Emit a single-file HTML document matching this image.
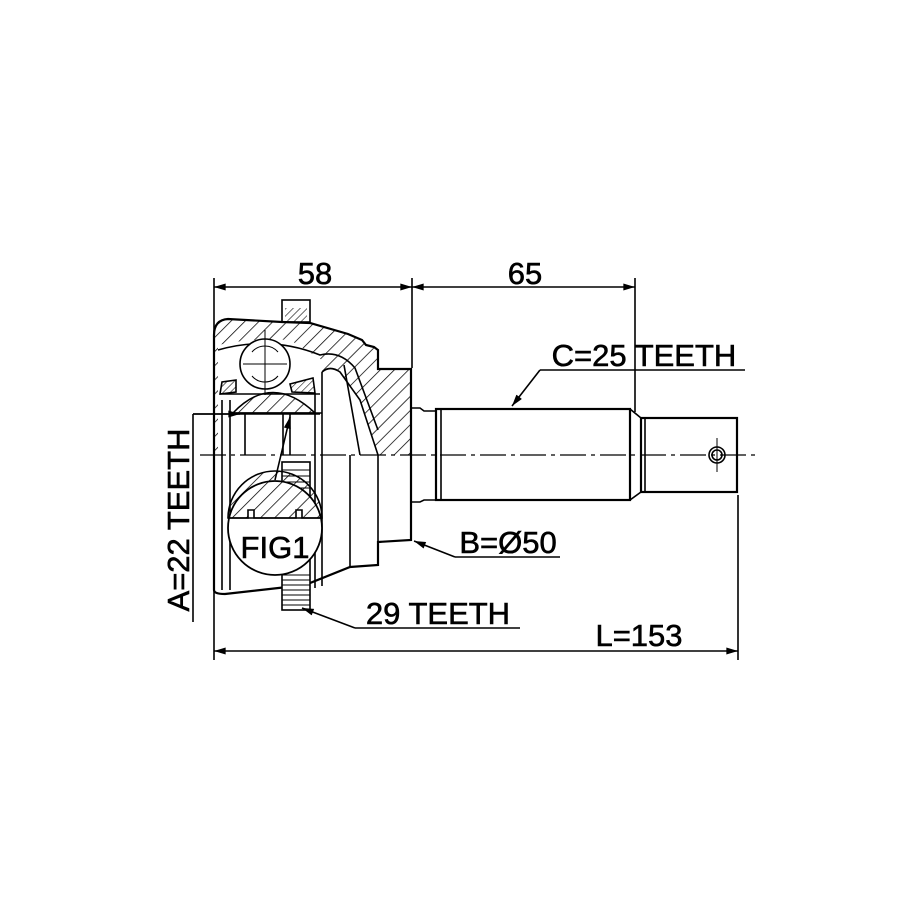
<!DOCTYPE html>
<html><head><meta charset="utf-8"><style>html,body{margin:0;padding:0;background:#fff}svg{display:block}text{font-family:"Liberation Sans",Arial,sans-serif;fill:#000}</style></head>
<body>
<svg width="915" height="915" viewBox="0 0 915 915" xmlns="http://www.w3.org/2000/svg">
<defs>
<pattern id="h" patternUnits="userSpaceOnUse" width="10" height="10" patternTransform="rotate(45)"><line x1="0" y1="0" x2="0" y2="10" stroke="#000" stroke-width="1.5"/></pattern>
<pattern id="h2" patternUnits="userSpaceOnUse" width="5" height="5" patternTransform="rotate(45)"><line x1="0" y1="0" x2="0" y2="5" stroke="#000" stroke-width="1.1"/></pattern>
<marker id="a" viewBox="0 0 10 6" refX="10" refY="3" markerWidth="15" markerHeight="7" markerUnits="userSpaceOnUse" orient="auto-start-reverse"><path d="M0,0 L10,3 L0,6 z" fill="#000"/></marker>
</defs>
<g fill="none" stroke="#000" stroke-width="1.6">
<line x1="214" y1="278" x2="214" y2="660"/>
<line x1="412" y1="278" x2="412" y2="368"/>
<line x1="635" y1="278" x2="635" y2="412"/>
<line x1="738" y1="495" x2="738" y2="660"/>
<line x1="214" y1="287" x2="412" y2="287" marker-start="url(#a)" marker-end="url(#a)"/>
<line x1="412" y1="287" x2="635" y2="287" marker-start="url(#a)" marker-end="url(#a)"/>
<line x1="214" y1="651" x2="738" y2="651" marker-start="url(#a)" marker-end="url(#a)"/>
<path d="M214,335 Q214,320 228,319 L282,322 L310,323 L348,334 L362,340 L366,345 L374,347 L378,350 L378,369 L411,369 L411,455 L378,455 L360,400 L340,372 Q330,365 322,372 L322,455 L214,455 Z" fill="url(#h)" stroke="none"/>
<path d="M218,345 Q250,338 290,340 L322,360 L322,455 L218,455 Z" fill="#fff" stroke="none"/>
<rect x="282" y="300" width="28" height="22" fill="#fff"/>
<rect x="285" y="308" width="22" height="14" fill="url(#h2)" stroke="none"/>
<path d="M214,590 L214,335 Q214,320 228,319 L282,322 L310,323 L348,334 L362,340 L366,345 L374,347 L378,350 L378,369 L411,369 L411,540 L378,542 L378,565 L350,567 L305,585 L225,594 Q214,594 214,590 Z" stroke-width="2.2"/>
<path d="M218,350 Q270,335 320,355 Q340,350 355,368 L378,430"/>
<path d="M322,372 Q330,365 340,372 L360,400 L378,455"/>
<line x1="322" y1="372" x2="322" y2="455"/>
<line x1="350" y1="455" x2="350" y2="567"/>
<line x1="378" y1="455" x2="378" y2="542"/>
<line x1="344" y1="365" x2="360" y2="455"/>
<path d="M220,394 L236,392 L236,380 L222,382 Z" fill="url(#h2)"/>
<path d="M290,384 L313,378 L315,393 L292,392 Z" fill="url(#h2)"/>
<line x1="220" y1="394" x2="320" y2="394"/>
<line x1="222" y1="400" x2="222" y2="455"/>
<line x1="230" y1="400" x2="230" y2="455"/>
<line x1="315" y1="394" x2="315" y2="455"/>
<circle cx="265" cy="364" r="25" fill="#fff"/>
<path d="M252,352 A17,17 0 0 1 278,352 M252,376 A17,17 0 0 0 278,376" stroke-width="1"/>
<line x1="265" y1="330" x2="265" y2="395" stroke-width="1"/>
<line x1="243" y1="364" x2="287" y2="364" stroke-width="1"/>
<path d="M233,413 Q272,372 315,413 Z" fill="url(#h)"/>
<line x1="230" y1="413" x2="322" y2="413"/>
<line x1="245" y1="413" x2="245" y2="455"/>
<line x1="283" y1="413" x2="283" y2="455"/>
<line x1="290" y1="413" x2="290" y2="455"/>
<line x1="222" y1="455" x2="222" y2="590"/>
<line x1="230" y1="455" x2="230" y2="590"/>
<line x1="315" y1="455" x2="315" y2="588"/>
<line x1="322" y1="455" x2="322" y2="586"/>
<rect x="282" y="462" width="28" height="148" fill="#fff"/>
<path d="M282,470 H310 M282,476 H310 M282,482 H310 M282,488 H310 M282,575 H310 M282,580 H310 M282,585 H310 M282,590 H310 M282,595 H310 M282,600 H310 M282,605 H310" stroke-width="0.9"/>
<circle cx="275" cy="528" r="47" fill="#fff" stroke-width="1.8"/>
<path d="M228,518 A47,47 0 0 1 322,518 L302,518 L302,510 L296,510 L296,518 L254,518 L254,510 L248,510 L248,518 Z" fill="url(#h)"/>
<line x1="228" y1="518" x2="322" y2="518"/>
<path d="M411,408 L420,408 L424,411 L436,411 L436,500 L424,500 L420,502 L411,502"/>
<rect x="436" y="409" width="194" height="91" stroke-width="2.2" fill="#fff"/>
<line x1="441" y1="409" x2="441" y2="500"/>
<path d="M630,409 L641,418 L641,492 L630,500" />
<rect x="641" y="418" width="96" height="74" stroke-width="2.2" fill="#fff"/>
<line x1="645" y1="418" x2="645" y2="492"/>
<circle cx="717" cy="455" r="8"/>
<circle cx="717" cy="455" r="5"/>
<line x1="717" y1="438" x2="717" y2="472" stroke-width="1"/>
<line x1="200" y1="455" x2="755" y2="455" stroke-width="1.2" stroke-dasharray="26,5,4,5"/>
<line x1="193" y1="414" x2="193" y2="622"/>
<line x1="193" y1="414" x2="320" y2="414"/>
<line x1="193" y1="414" x2="240" y2="414" marker-end="url(#a)"/>
<line x1="275" y1="480" x2="290" y2="417" marker-end="url(#a)"/>
<polyline points="745,370 540,370"/>
<line x1="540" y1="370" x2="512" y2="406" marker-end="url(#a)"/>
<polyline points="560,557 455,557"/>
<line x1="455" y1="557" x2="414" y2="541" marker-end="url(#a)"/>
<polyline points="520,628 355,628"/>
<line x1="355" y1="628" x2="302" y2="608" marker-end="url(#a)"/>
</g>
<g font-size="31" stroke="#000" stroke-width="0.6">
<text x="315" y="284" text-anchor="middle">58</text>
<text x="525" y="284" text-anchor="middle">65</text>
<text x="644" y="366" text-anchor="middle">C=25 TEETH</text>
<text x="508" y="553" text-anchor="middle">B=Ø50</text>
<text x="438" y="624" text-anchor="middle">29 TEETH</text>
<text x="639" y="646" text-anchor="middle">L=153</text>
<text x="275" y="558" text-anchor="middle">FIG1</text>
<text transform="translate(189,520) rotate(-90)" text-anchor="middle">A=22 TEETH</text>
</g>
</svg>
</body></html>
